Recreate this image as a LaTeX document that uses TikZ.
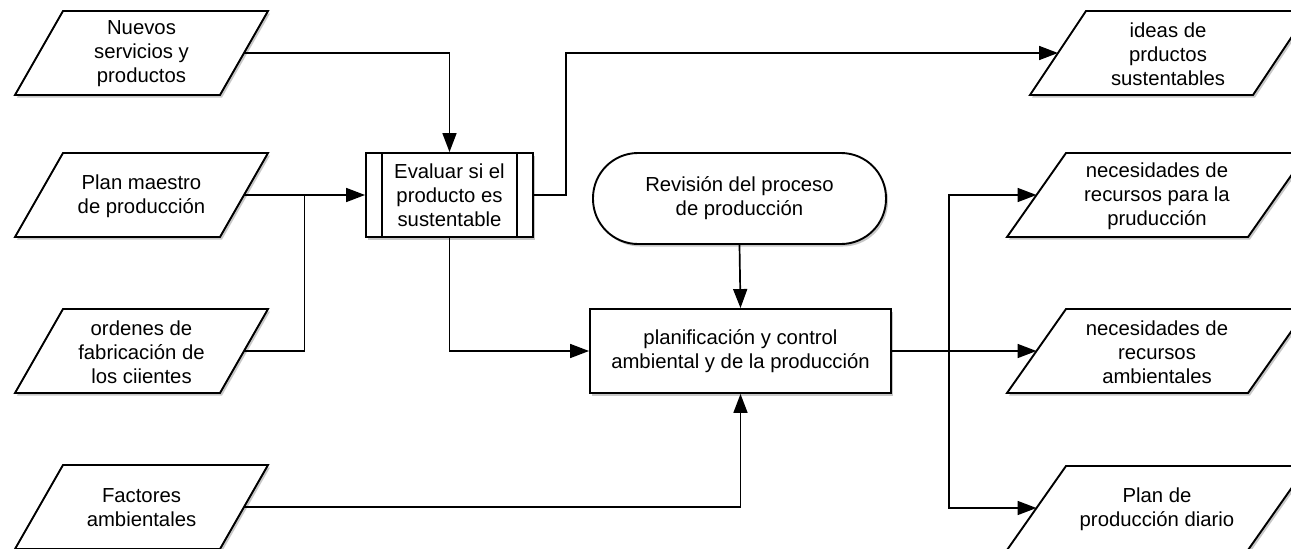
\documentclass[tikz,border=0pt]{standalone}
\usepackage{fontspec}
\setmainfont{Liberation Sans}
\usetikzlibrary{arrows.meta,shadows,calc}
\tikzset{
  shp/.style={draw=black, line width=1.9pt, fill=white,
     drop shadow={shadow xshift=2pt, shadow yshift=-2.5pt, opacity=0.22, fill=black}},
  io/.style={shp, line join=miter},
  txt/.style={align=center, inner sep=0pt, font=\fontsize{20.3}{24}\selectfont},
  boxnode/.style={shp, txt, rectangle},
  conn/.style={line width=1.7pt, draw=black},
  arr/.style={conn, -{Triangle[length=19pt,width=14pt]}}
}
\begin{document}
\begin{tikzpicture}[x=1pt,y=-1pt]
\clip (0,0) rectangle (1291,549);
\fill[white] (0,0) rectangle (1291,549);

% left input shapes
\draw[io] (15,95) -- (63,11) -- (268,11) -- (220,95) -- cycle;
\node[txt] (nuevos) at (141.5,54) {Nuevos\\servicios y\\productos};
\coordinate (nuevosR) at (244,53);

\draw[io] (15,237) -- (63,153) -- (268,153) -- (220,237) -- cycle;
\node[txt] (plan) at (141.5,196) {Plan maestro\\de producción};
\coordinate (planR) at (244,195);

\draw[io] (15,393) -- (63,309) -- (268,309) -- (220,393) -- cycle;
\node[txt] (ord) at (141.5,352) {ordenes de\\fabricación de\\los ciientes};
\coordinate (ordR) at (244,351);

\draw[io] (15,549) -- (63,465) -- (268,465) -- (220,549) -- cycle;
\node[txt] (fact) at (141.5,508) {Factores\\ambientales};
\coordinate (factR) at (244,507);

% right output shapes
\draw[io] (1030,95) -- (1086,11) -- (1309,11) -- (1253,95) -- cycle;
\node[txt] (ideas) at (1168,54) {ideas de\\prductos\\sustentables};
\coordinate (ideasL) at (1058,53);

\draw[io] (1007,237) -- (1066,153) -- (1307,153) -- (1248,237) -- cycle;
\node[txt] (nec1) at (1157,196) {necesidades de\\recursos para la\\pruducción};
\coordinate (nec1L) at (1036.5,195);

\draw[io] (1007,393) -- (1066,309) -- (1307,309) -- (1248,393) -- cycle;
\node[txt] (nec2) at (1157,352) {necesidades de\\recursos\\ambientales};
\coordinate (nec2L) at (1036.5,351);

\draw[io] (1007,550) -- (1066,466) -- (1307,466) -- (1248,550) -- cycle;
\node[txt] (diario) at (1157,509) {Plan de\\producción diario};
\coordinate (diarioL) at (1036.5,508);

% process nodes
\node[boxnode, minimum width=167pt, minimum height=84pt] (ev) at (449.5,195) {Evaluar si el\\producto es\\sustentable};
\draw[line width=1.6pt] ([xshift=17pt]ev.north west) -- ([xshift=17pt]ev.south west);
\draw[line width=1.6pt] ([xshift=-17pt]ev.north east) -- ([xshift=-17pt]ev.south east);

\node[boxnode, minimum width=293pt, minimum height=91pt, rounded corners=45pt] (rev) at (739.5,198.5) {Revisión del proceso\\de producción};

\node[boxnode, minimum width=301pt, minimum height=84pt] (pc) at (740.5,351) {planificación y control\\ambiental y de la producción};

% connectors
\draw[arr] (nuevosR) -| (ev.north);
\draw[arr] (planR) -- (ev.west);
\coordinate (jl) at ($(planR)!0.5!(ev.west)$);
\draw[conn] (ordR) -| (jl);
\draw[arr] (ev.south) |- (pc.west);
\coordinate (je) at ($(ev.east)+(32,0)$);
\draw[arr] (ev.east) -- (je) |- (ideasL);
\draw[arr] (rev.south) -- (pc.north);
\draw[arr] (factR) -| (pc.south);
\coordinate (jx) at ($(pc.east)+(57,0)$);
\draw[arr] (pc.east) -- (nec2L);
\draw[arr] (jx) |- (nec1L);
\draw[arr] (jx) |- (diarioL);
\end{tikzpicture}
\end{document}
